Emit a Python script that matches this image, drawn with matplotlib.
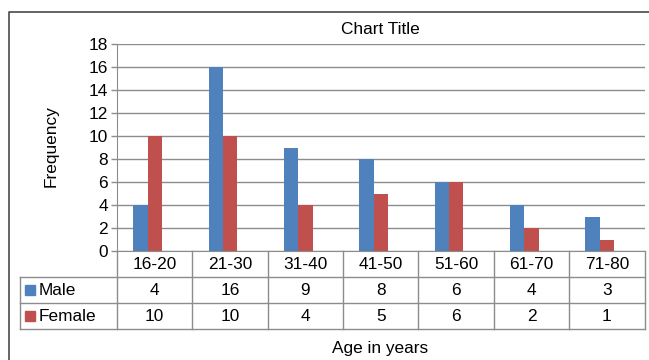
import matplotlib
matplotlib.use("Agg")
import matplotlib.pyplot as plt
from matplotlib.lines import Line2D
from matplotlib.patches import Rectangle

categories = ["16-20", "21-30", "31-40", "41-50", "51-60", "61-70", "71-80"]
male = [4, 16, 9, 8, 6, 4, 3]
female = [10, 10, 4, 5, 6, 2, 1]
series_names = ["Male", "Female"]
y_ticks = [0, 2, 4, 6, 8, 10, 12, 14, 16, 18]

BLUE = "#4F81BD"
RED = "#C0504D"
GRID = "#8C8C8C"
FS = 12.4

plt.rcParams["font.family"] = ["Liberation Sans", "DejaVu Sans"]

W, H = 649, 360
fig = plt.figure(figsize=(W / 100, H / 100), dpi=100)


def fx(px):
    return px / W


def fy(py):
    return 1 - py / H


# plot area in pixel coordinates
L, R, T, B = 117, 644.5, 44.3, 251.0
ax = fig.add_axes([fx(L), fy(B), fx(R - L), (B - T) / H])
n = len(categories)
x = list(range(n))
bw = 0.19
ax.bar([i - bw for i in x], male, width=bw, color=BLUE, linewidth=0)
ax.bar(x, female, width=bw, color=RED, linewidth=0)
ax.set_xlim(-0.5, n - 0.5)
ax.set_ylim(0, 18)
ax.set_yticks(y_ticks)
ax.set_yticklabels([str(v) for v in y_ticks], fontsize=FS)
ax.set_xticks([])
ax.yaxis.grid(True, color=GRID, linewidth=1.0)
ax.set_axisbelow(True)
for s in ["top", "right"]:
    ax.spines[s].set_visible(False)
ax.spines["left"].set_color(GRID)
ax.spines["bottom"].set_color(GRID)
ax.tick_params(axis="y", length=4.5, color=GRID, width=1.0, pad=2)

# data table below the plot
col_w = (R - L) / n
TL = 20.0
row_h = 26.1
tax = fig.add_axes([fx(TL), fy(B + 3 * row_h), fx(R - TL), 3 * row_h / H])
tax.set_xlim(-0.5 - (L - TL) / col_w, n - 0.5)
tax.set_ylim(3, 0)
tax.axis("off")
x0 = -0.5 - (L - TL) / col_w
lw = 1.0
# horizontal rules
for yy in [1, 2, 3]:
    tax.add_line(Line2D([x0, n - 0.5], [yy, yy], color=GRID, lw=lw, clip_on=False))
# vertical rules
for k in range(n + 1):
    tax.add_line(Line2D([k - 0.5, k - 0.5], [0, 3], color=GRID, lw=lw, clip_on=False))
tax.add_line(Line2D([x0, x0], [1, 3], color=GRID, lw=lw, clip_on=False))

for i, c in enumerate(categories):
    tax.text(i, 0.5, c, ha="center", va="center", fontsize=FS)
    tax.text(i, 1.5, str(male[i]), ha="center", va="center", fontsize=FS)
    tax.text(i, 2.5, str(female[i]), ha="center", va="center", fontsize=FS)

# legend keys in the table's label column
for r, (name, col) in enumerate(zip(series_names, [BLUE, RED])):
    yc = B + row_h * (r + 1.5)
    fig.patches.append(Rectangle((fx(25), fy(yc + 5)), fx(10), 10 / H,
                                 transform=fig.transFigure, color=col))
    fig.text(fx(38.5), fy(yc), name, ha="left", va="center", fontsize=FS)

fig.text(fx(380.5), fy(29.5), "Chart Title", ha="center", va="center", fontsize=FS)
fig.text(fx(380), fy(348), "Age in years", ha="center", va="center", fontsize=FS)
fig.text(fx(51.5), fy(146), "Frequency", ha="center", va="center",
         rotation=90, fontsize=FS)

# chart frame (runs off the right and bottom edges)
fig.add_artist(Line2D([fx(9.3), fx(9.3), fx(W + 5)], [fy(H + 5), fy(11.7), fy(11.7)],
                      transform=fig.transFigure, color="#4A4A4A", lw=1.2))

fig.savefig("out.png", dpi=100)
